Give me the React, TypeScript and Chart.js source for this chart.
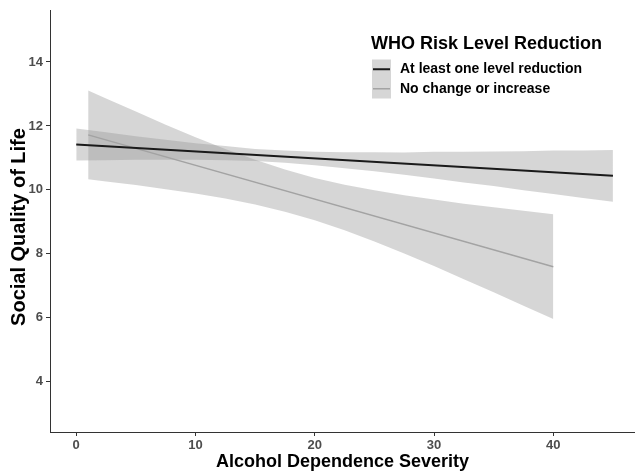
import React, { useEffect, useRef } from "react";
import { Chart, registerables } from "chart.js";

Chart.register(...registerables);

// Fitted regression lines (endpoints of each linear fit)
const reductionX = [0, 45];
const reductionY = [11.42, 10.44];
const noChangeX = [1, 40];
const noChangeY = [11.72, 7.6];

// 95% confidence bands, sampled along each fit
const reductionBandX = [0, 2.5, 5, 7.5, 10, 12.5, 15, 17.5, 20, 22.5, 25, 27.5, 30, 32.5, 35, 37.5, 40, 42.5, 45];
const reductionBandLow = [10.92, 10.93, 10.94, 10.94, 10.94, 10.93, 10.9, 10.85, 10.77, 10.68, 10.58, 10.47, 10.36, 10.23, 10.12, 9.99, 9.87, 9.75, 9.63];
const reductionBandHigh = [11.92, 11.8, 11.68, 11.57, 11.46, 11.37, 11.28, 11.23, 11.19, 11.18, 11.18, 11.17, 11.19, 11.19, 11.2, 11.21, 11.23, 11.23, 11.25];

const noChangeBandX = [1, 2.5, 5, 7.5, 10, 12.5, 15, 17.5, 20, 22.5, 25, 27.5, 30, 32.5, 35, 37.5, 40];
const noChangeBandLow = [10.33, 10.26, 10.15, 10.02, 9.89, 9.73, 9.54, 9.32, 9.05, 8.74, 8.39, 8.01, 7.62, 7.21, 6.8, 6.38, 5.96];
const noChangeBandHigh = [13.11, 12.86, 12.45, 12.04, 11.65, 11.28, 10.94, 10.64, 10.37, 10.16, 9.99, 9.83, 9.7, 9.57, 9.46, 9.35, 9.24];

// Axis ticks and labels
const xTicks = [0, 10, 20, 30, 40];
const yTicks = [4, 6, 8, 10, 12, 14];
const xTitle = "Alcohol Dependence Severity";
const yTitle = "Social Quality of Life";
const legendTitle = "WHO Risk Level Reduction";
const seriesNames = ["At least one level reduction", "No change or increase"];

const BAND_FILL = "rgba(153,153,153,0.4)";
const LINE_DARK = "#1a1a1a";
const LINE_LIGHT = "#a3a3a3";
const FONT = "'Liberation Sans', Arial, sans-serif";

const toPoints = (xs: number[], ys: number[]) => xs.map((x, i) => ({ x, y: ys[i] }));

// Axis titles and the legend box, drawn on top of the chart
const annotationPlugin = {
  id: "titlesAndLegend",
  afterDraw(chart: Chart) {
    const ctx = chart.ctx;
    const area = chart.chartArea;
    ctx.save();
    ctx.fillStyle = "#000";
    ctx.textBaseline = "middle";
    ctx.textAlign = "center";

    // x-axis title
    ctx.font = `bold 18px ${FONT}`;
    ctx.fillText(xTitle, (area.left + area.right) / 2, 462);

    // y-axis title
    ctx.save();
    ctx.translate(19, 227);
    ctx.rotate(-Math.PI / 2);
    ctx.font = `bold 20px ${FONT}`;
    ctx.fillText(yTitle, 0, 0);
    ctx.restore();

    // legend
    ctx.textAlign = "left";
    ctx.font = `bold 18px ${FONT}`;
    ctx.fillText(legendTitle, 371, 44);

    const keyX = 372;
    const keyW = 19;
    const keyH = 19.5;
    const keyTop = 59.5;
    const colors = [LINE_DARK, LINE_LIGHT];
    const widths = [2, 1.5];
    seriesNames.forEach((name, i) => {
      const top = keyTop + i * keyH;
      ctx.fillStyle = BAND_FILL;
      ctx.fillRect(keyX, top, keyW, keyH);
      ctx.strokeStyle = colors[i];
      ctx.lineWidth = widths[i];
      ctx.beginPath();
      ctx.moveTo(keyX + 1, top + keyH / 2);
      ctx.lineTo(keyX + keyW - 1, top + keyH / 2);
      ctx.stroke();
      ctx.fillStyle = "#000";
      ctx.font = `bold 14px ${FONT}`;
      ctx.fillText(name, 400, top + keyH / 2);
    });
    ctx.restore();
  },
};

export default function App() {
  const canvasRef = useRef<HTMLCanvasElement | null>(null);

  useEffect(() => {
    document.body.style.margin = "0";
    const canvas = canvasRef.current;
    if (!canvas) return;

    const bandStyle = {
      borderWidth: 0,
      borderColor: "rgba(0,0,0,0)",
      pointRadius: 0,
    };

    const chart = new Chart(canvas, {
      type: "line",
      data: {
        datasets: [
          {
            label: seriesNames[0],
            data: toPoints(reductionX, reductionY),
            borderColor: LINE_DARK,
            borderWidth: 2,
            pointRadius: 0,
            fill: false,
          },
          {
            label: seriesNames[1],
            data: toPoints(noChangeX, noChangeY),
            borderColor: LINE_LIGHT,
            borderWidth: 1.5,
            pointRadius: 0,
            fill: false,
          },
          {
            ...bandStyle,
            label: "reduction-low",
            data: toPoints(reductionBandX, reductionBandLow),
            fill: false,
          },
          {
            ...bandStyle,
            label: "reduction-high",
            data: toPoints(reductionBandX, reductionBandHigh),
            backgroundColor: BAND_FILL,
            fill: 2,
          },
          {
            ...bandStyle,
            label: "nochange-low",
            data: toPoints(noChangeBandX, noChangeBandLow),
            fill: false,
          },
          {
            ...bandStyle,
            label: "nochange-high",
            data: toPoints(noChangeBandX, noChangeBandHigh),
            backgroundColor: BAND_FILL,
            fill: 4,
          },
        ],
      },
      options: {
        animation: false,
        responsive: false,
        devicePixelRatio: 1,
        layout: { padding: { top: 5, right: 0, left: 0, bottom: 0 } },
        plugins: {
          legend: { display: false },
          tooltip: { enabled: false },
        },
        elements: { line: { tension: 0 } },
        scales: {
          x: {
            type: "linear",
            min: -2.2,
            max: 46.85,
            afterFit: (scale: any) => {
              scale.height = 43;
            },
            afterBuildTicks: (scale: any) => {
              scale.ticks = xTicks.map((v) => ({ value: v }));
            },
            grid: {
              drawOnChartArea: false,
              drawTicks: true,
              tickLength: 4,
              color: "#333333",
              lineWidth: 1,
            },
            border: { display: true, color: "#333333", width: 1 },
            ticks: {
              color: "#4d4d4d",
              padding: 2,
              maxRotation: 0,
              autoSkip: false,
              font: { family: FONT, size: 13, weight: "bold" },
            },
          },
          y: {
            type: "linear",
            min: 2.43,
            max: 15.6,
            afterFit: (scale: any) => {
              scale.width = 50;
            },
            afterBuildTicks: (scale: any) => {
              scale.ticks = yTicks.map((v) => ({ value: v }));
            },
            grid: {
              drawOnChartArea: false,
              drawTicks: true,
              tickLength: 4,
              color: "#333333",
              lineWidth: 1,
            },
            border: { display: true, color: "#333333", width: 1 },
            ticks: {
              color: "#4d4d4d",
              padding: 3,
              autoSkip: false,
              font: { family: FONT, size: 13, weight: "bold" },
            },
          },
        },
      },
      plugins: [annotationPlugin],
    } as any);

    return () => chart.destroy();
  }, []);

  return (
    <div style={{ position: "absolute", left: 0, top: 0, width: 635, height: 475, background: "#fff" }}>
      <canvas ref={canvasRef} width={635} height={475} />
    </div>
  );
}
